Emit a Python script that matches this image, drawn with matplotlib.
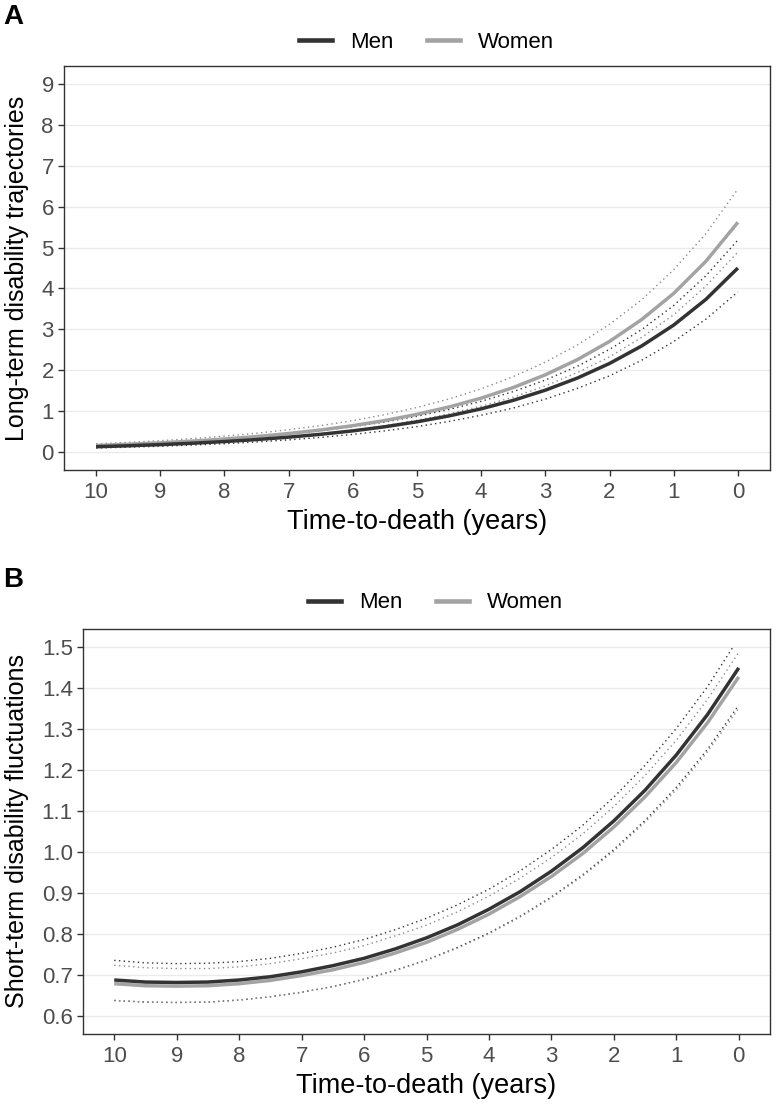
import numpy as np
import matplotlib.pyplot as plt
from matplotlib.lines import Line2D
from matplotlib.patches import Rectangle

plt.rcParams['font.family'] = ['Liberation Sans', 'DejaVu Sans']

# time-to-death in years (half-year steps)
years = [10.0, 9.5, 9.0, 8.5, 8.0, 7.5, 7.0, 6.5, 6.0, 5.5, 5.0,
         4.5, 4.0, 3.5, 3.0, 2.5, 2.0, 1.5, 1.0, 0.5, 0.0]

# Panel A: long-term disability trajectories
a_men = [0.120, 0.144, 0.172, 0.206, 0.247, 0.296, 0.355, 0.425, 0.509, 0.610, 0.731,
         0.876, 1.049, 1.257, 1.506, 1.804, 2.161, 2.589, 3.102, 3.730, 4.500]
a_men_lo = [0.090, 0.109, 0.132, 0.161, 0.195, 0.237, 0.288, 0.349, 0.422, 0.509, 0.614,
            0.740, 0.892, 1.068, 1.288, 1.551, 1.858, 2.239, 2.699, 3.245, 3.915]
a_men_hi = [0.156, 0.184, 0.217, 0.258, 0.306, 0.364, 0.433, 0.514, 0.611, 0.726, 0.866,
            1.034, 1.233, 1.471, 1.754, 2.093, 2.507, 2.990, 3.583, 4.308, 5.184]
a_women = [0.150, 0.180, 0.215, 0.258, 0.309, 0.370, 0.444, 0.531, 0.636, 0.762, 0.914,
           1.095, 1.311, 1.571, 1.883, 2.255, 2.701, 3.236, 3.878, 4.663, 5.620]
a_women_lo = [0.114, 0.139, 0.168, 0.204, 0.247, 0.300, 0.364, 0.438, 0.528, 0.636, 0.768,
              0.925, 1.114, 1.335, 1.610, 1.939, 2.323, 2.799, 3.354, 4.057, 4.889]
a_women_hi = [0.192, 0.227, 0.269, 0.320, 0.380, 0.451, 0.537, 0.637, 0.760, 0.907, 1.083,
              1.292, 1.540, 1.838, 2.194, 2.616, 3.120, 3.721, 4.460, 5.339, 6.435]

# Panel B: short-term disability fluctuations
b_men = [0.687, 0.682, 0.681, 0.682, 0.687, 0.695, 0.707, 0.722, 0.740, 0.763, 0.790,
         0.822, 0.860, 0.903, 0.953, 1.010, 1.076, 1.151, 1.237, 1.336, 1.450]
b_men_lo = [0.637, 0.633, 0.632, 0.633, 0.638, 0.646, 0.657, 0.671, 0.689, 0.711, 0.736,
            0.767, 0.802, 0.843, 0.890, 0.944, 1.006, 1.077, 1.158, 1.251, 1.359]
b_men_hi = [0.735, 0.729, 0.727, 0.728, 0.732, 0.740, 0.752, 0.767, 0.786, 0.810, 0.838,
            0.871, 0.909, 0.954, 1.006, 1.065, 1.134, 1.212, 1.302, 1.404, 1.523]
b_women = [0.678, 0.673, 0.672, 0.673, 0.678, 0.686, 0.698, 0.712, 0.730, 0.753, 0.779,
           0.811, 0.848, 0.891, 0.940, 0.996, 1.061, 1.135, 1.219, 1.316, 1.428]
b_women_lo = [0.637, 0.633, 0.632, 0.633, 0.638, 0.646, 0.657, 0.671, 0.688, 0.710, 0.735,
              0.765, 0.800, 0.841, 0.888, 0.941, 1.002, 1.073, 1.152, 1.245, 1.351]
b_women_hi = [0.723, 0.717, 0.715, 0.715, 0.719, 0.727, 0.739, 0.753, 0.771, 0.795, 0.821,
              0.854, 0.892, 0.936, 0.986, 1.044, 1.111, 1.187, 1.273, 1.373, 1.488]

x_ticks = [10, 9, 8, 7, 6, 5, 4, 3, 2, 1, 0]
a_yticks = [0, 1, 2, 3, 4, 5, 6, 7, 8, 9]
b_yticks = [0.6, 0.7, 0.8, 0.9, 1.0, 1.1, 1.2, 1.3, 1.4, 1.5]

MEN = '#333333'
WOMEN = '#a3a3a3'
W, H = 780, 1106


def panel(rect, men, men_lo, men_hi, women, women_lo, women_hi,
          yticks, ylim, yfmt, ylabel, tag, tag_y, leg_xy):
    l, t, r, b = rect
    ax = fig.add_axes([l / W, 1 - b / H, (r - l) / W, (b - t) / H])
    clip = Rectangle((-1, -1), 12, yticks[-1] + 1, transform=ax.transData)

    for lo, hi, c in [(men_lo, men_hi, MEN), (women_lo, women_hi, '#8c8c8c')]:
        for ci in (lo, hi):
            ln, = ax.plot(years, ci, color=c, lw=1.0, linestyle=(0, (1, 2.4)))
            ln.set_clip_path(clip)
    ax.plot(years, women, color=WOMEN, lw=2.5, solid_capstyle='butt')
    ax.plot(years, men, color=MEN, lw=2.5, solid_capstyle='butt')

    ax.set_xlim(10.5, -0.5)
    ax.set_ylim(*ylim)
    ax.set_xticks(x_ticks)
    ax.set_xticklabels([str(v) for v in x_ticks])
    ax.set_yticks(yticks)
    ax.set_yticklabels([yfmt.format(v) for v in yticks])
    ax.grid(axis='y', color='#ebebeb', lw=1.0)
    ax.set_axisbelow(True)
    for s in ax.spines.values():
        s.set_color('#333333')
        s.set_linewidth(1.0)
    ax.tick_params(colors='#333333', labelcolor='#4d4d4d', labelsize=16,
                   length=4.3, width=1.0)
    ax.tick_params(axis='x', pad=4.5)
    ax.tick_params(axis='y', pad=3)

    ax.set_xlabel('Time-to-death (years)', fontsize=19.5, va='top')
    ax.xaxis.set_label_coords((l + r) / 2 / W, 1 - (b + 39) / H, transform=fig.transFigure)
    ax.set_ylabel(ylabel, fontsize=18, va='center')
    ax.yaxis.set_label_coords(17 / W, 1 - (t + b) / 2 / H, transform=fig.transFigure)

    handles = [Line2D([], [], color=MEN, lw=3.3), Line2D([], [], color=WOMEN, lw=3.3)]
    fig.legend(handles, ['Men', 'Women'], loc='center', ncol=2, frameon=False,
               bbox_to_anchor=(leg_xy[0] / W, 1 - leg_xy[1] / H), fontsize=16,
               handlelength=1.45, handletextpad=0.85, columnspacing=1.5)
    fig.text(3 / W, 1 - tag_y / H, tag, fontsize=20, fontweight='bold', va='center')
    return ax


fig = plt.figure(figsize=(W / 100, H / 100), dpi=100)

panel((64, 66, 770, 470), a_men, a_men_lo, a_men_hi, a_women, a_women_lo, a_women_hi,
      a_yticks, (-0.45, 9.45), '{:d}', 'Long-term disability trajectories', 'A', 17, (427, 42))
panel((83, 629, 770, 1034), b_men, b_men_lo, b_men_hi, b_women, b_women_lo, b_women_hi,
      b_yticks, (0.555, 1.545), '{:.1f}', 'Short-term disability fluctuations', 'B', 580, (436, 603))

fig.savefig('out.png', dpi=100)
